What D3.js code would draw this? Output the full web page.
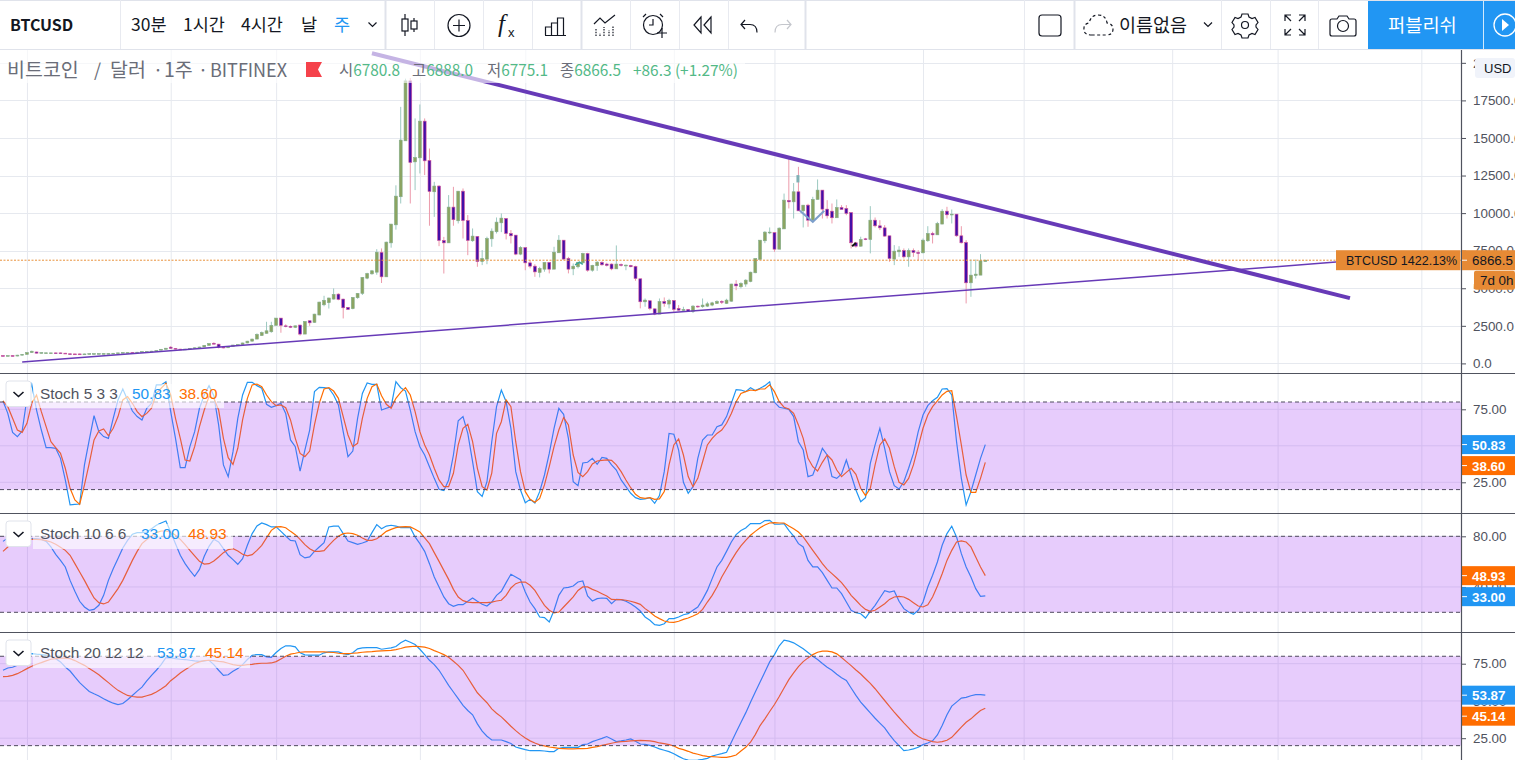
<!DOCTYPE html>
<html>
<head>
<meta charset="utf-8">
<script src="https://cdn.jsdelivr.net/npm/d3@7"></script>
<style>
  html, body { margin: 0; padding: 0; background: #fff; overflow: hidden; }
  svg { display: block; font-family: "Liberation Sans", "Noto Sans CJK KR", sans-serif; }
  .axis path.domain { display: none; }
  .axis line { stroke: #50535e; }
  .axis text { fill: #50535e; font-size: 13.4px; }
  .kr { font-family: "Noto Sans CJK KR", sans-serif; }
</style>
</head>
<body>
<div id="plot"></div>
<script>
// weekly candles
const opens = [
  520,500,520,490,550,600,720,760,680,680,
  680,700,700,680,640,630,630,610,630,630,
  640,640,640,650,675,700,700,725,715,760,
  760,785,820,880,940,1080,1000,950,910,950,
  1000,1040,1090,1200,1340,1280,1080,1040,1130,1190,
  1250,1360,1480,1620,1850,2000,2105,2530,3015,2500,
  2470,2400,2550,1950,2840,2730,3220,3900,4040,4280,
  4610,4280,3730,3640,4370,4660,5670,5960,6070,7380,
  5760,8020,9220,11090,14810,18800,13410,13680,16120,13500,
  11420,11800,8180,8020,10400,9490,11460,9510,8160,8450,
  6780,6940,8290,8760,9355,9644,8645,8535,7270,7710,
  6690,6470,6050,6270,6720,6270,7360,8200,6980,6290,
  6430,6690,7310,6200,6500,6720,6610,6610,6290,6580,
  6500,6520,6450,5630,4100,4170,3630,3280,4120,3950,
  4190,3660,3520,3590,3460,3810,3770,3810,3880,3990,
  4120,3990,4140,5280,5100,5280,5450,6030,6920,8160,
  8690,8700,7600,8950,10840,10750,11420,10150,10530,9530,
  10910,11530,10265,10130,9690,10375,10310,10040,8025,7800,
  8290,8246,9530,9155,9020,8490,6940,7425,7515,7090,
  7515,7380,7360,8160,8645,8555,9270,10130,9890,9930,
  8490,8047,5363,5850,5873,6780.8
];
const closes = [
  500,520,490,550,600,720,810,680,720,705,
  700,680,680,650,610,600,605,630,650,650,
  655,655,660,675,700,725,725,695,745,790,
  790,815,860,940,1010,1000,950,910,950,1000,
  1040,1090,1200,1320,1280,1070,1040,1130,1220,1250,
  1360,1480,1620,1930,2050,2170,2530,3015,2530,2450,
  2400,2500,1950,2795,2700,3280,4080,4200,4350,4590,
  4260,3700,3590,4390,4660,5720,5980,6160,7400,5760,
  8070,9270,11130,14860,18800,13370,13700,16120,13480,11440,
  11800,8180,8020,10400,9560,11460,9510,8180,8470,6780,
  6980,8310,8800,9400,9666,8645,8490,7270,7710,6690,
  6470,6090,6320,6720,6270,7400,8200,6940,6270,6470,
  6720,7310,6200,6520,6740,6560,6520,6290,6610,6520,
  6540,6430,5650,4100,4210,3660,3280,4120,3990,4190,
  3590,3540,3590,3460,3810,3770,3880,3965,4030,4120,
  4080,4210,5280,5160,5320,5540,6070,6980,8200,8735,
  8735,7600,9000,10864,10750,11420,10150,10530,9530,10910,
  11530,10265,9820,9690,10375,10240,9980,8025,7800,8246,
  8246,9530,9155,9020,8470,6980,7470,7540,7090,7515,
  7380,7315,8200,8645,8555,9310,10130,9890,9930,8490,
  8025,5363,5873,5940,6825,6866.5
];
const highs = [
  540,540,540,570,620,740,850,780,740,725,
  720,720,720,700,660,650,650,650,670,670,
  675,675,680,695,720,745,745,745,765,810,
  810,835,880,960,1030,1150,1020,970,970,1020,
  1060,1110,1220,1350,1400,1300,1100,1150,1240,1270,
  1380,1500,1640,2000,2120,2770,2770,3015,3015,2600,
  2520,2520,2580,2800,2840,3300,4100,4500,4380,4990,
  4660,4300,3750,4400,4680,5750,6030,6220,7600,7650,
  8100,9280,11850,17070,18950,18990,16300,17230,16300,14300,
  12080,11860,8420,11200,11750,11460,11640,9870,8980,8450,
  7540,8430,8980,9710,9976,9644,8870,8535,7800,7710,
  6870,6600,6430,6720,6720,7760,8535,8200,7090,6650,
  6760,7360,7360,6560,6800,6800,6700,6650,7850,6650,
  6580,6560,6500,5630,4320,4170,3660,4320,4390,4300,
  4190,3880,3770,3600,3880,3850,4320,4100,4100,4200,
  4200,4300,5300,5540,5400,5600,6100,6980,8200,8800,
  9045,8735,9050,11300,13750,12000,13080,10530,10620,11085,
  12240,11530,10860,10640,10910,10530,10530,10040,8090,8430,
  8350,10465,9710,9530,9200,8490,7870,7800,7650,7650,
  7650,7540,8310,9130,8760,9420,10265,10420,10240,9930,
  9130,8200,6916,6916,7270,6888.0
];
const lows = [
  480,480,470,470,530,580,700,660,660,660,
  660,660,660,630,590,580,585,590,610,610,
  620,620,620,630,655,680,680,675,695,740,
  740,765,800,860,920,980,930,890,890,930,
  980,1020,1070,1180,1260,1000,1000,1020,1110,1170,
  1230,1340,1460,1600,1830,1980,2040,2530,2040,2400,
  2350,2350,1850,1950,2500,2700,3200,3800,3650,4250,
  4200,2990,3550,3600,4300,4550,5600,5900,5900,5350,
  5760,7700,8900,10640,14810,10640,11530,12640,12530,9160,
  9750,7800,5980,8020,9160,9310,8310,7200,8090,6430,
  6540,6600,7760,8645,8735,8246,7980,7200,7200,6200,
  6320,5760,5720,6100,5990,6270,7360,6900,5990,5870,
  6320,6690,6100,6100,6160,6500,6450,6200,6290,6450,
  6200,6400,5500,3660,3770,3540,3210,3280,3770,3660,
  3430,3500,3430,3430,3350,3700,3700,3750,3800,3950,
  3950,3950,4100,4870,4990,5100,5400,6000,6900,8000,
  8600,7420,7600,8950,10310,9640,10150,9045,9090,9420,
  10910,9640,9640,9310,9690,10240,9860,7650,7700,7760,
  8200,7320,9045,8870,8430,6760,6540,7090,6980,6430,
  7090,6870,7315,8090,7980,8555,9270,9640,9310,8430,
  7980,3990,4430,5650,5873,6775.1
];

// Stoch 5 3 3
const stoch5K = [
  80.7,72.2,59.2,56.3,60.1,82.5,92.1,74.5,60.8,48.7,
  48.7,48.3,41.4,26.6,9.5,9.9,10.1,36.9,54,70.6,
  59.7,56.3,55.1,68.8,81.4,88.9,81.4,73.8,70,67.7,
  75.7,79.1,91.7,91.7,93.9,73.4,55.1,35,35,49.4,
  59.7,75.7,84.8,91.2,84.3,64.3,36.9,28.9,46,68.8,
  84.8,93.5,93.5,91.2,89.4,78.4,76.4,77.5,79.1,72.2,
  54,49.4,32.7,47.1,60.8,87.1,90,89.8,89.4,84.8,
  78,59.7,42.6,46.4,68.8,85.9,93,92.1,92.1,74.5,
  75.7,76.8,93.9,89.8,87.5,74.5,59.7,49.4,43.7,35.7,
  27.7,20.2,19.3,26.6,43.7,67.2,70,58.5,39.1,18.6,
  15.4,25.4,52.8,76.8,88.2,80.2,62,32.3,19.7,11,
  13.3,10.8,18.6,30,44.8,62,75.7,71.6,55.1,25.4,
  22.7,38.2,38.7,41.4,37.3,42.1,41.4,36.9,33.4,26.6,
  22,17.5,14.5,13.3,13.6,14.5,10.6,15.9,32.3,58.5,
  57.9,47.1,25,17.5,22,41.4,54,57.4,57.4,63.1,
  64.3,70,79.1,88.5,88.2,87.1,89.8,87.8,89.4,91.2,
  93.9,79.8,76.4,75.7,75,70,52.8,47.1,28.9,30,
  38.7,48.3,43.7,28.9,27.7,30.7,40.3,30,19.7,11.7,
  14.5,38,50.6,62,48.3,32.3,22.7,20.4,25.4,34.6,
  44.8,59.7,71.1,77.5,80.9,83.2,88.9,89.1,84.8,52.8,
  27.7,9.5,18.6,30,41.4,50.83
];
const stoch5D = [
  80.7,76.8,68.8,60.8,59.2,65.4,79.1,84.8,73.4,63.1,
  52.8,48.7,44.8,34.6,20.9,12.9,9.9,23.2,38,54,
  60.1,61.5,56.9,62,70,81.4,83.7,79.1,73.4,70,
  72.2,75.7,85.9,89.4,92.8,84.8,68.8,55.1,40.3,39.6,
  49.4,63.1,74.5,83.7,82.5,74.5,55.1,41.9,37.3,48.3,
  67.7,82.5,91.7,92.3,90.5,84.8,80.2,77.5,78,76.1,
  67.7,55.1,44.8,42.6,46.4,64.3,79.1,88.9,89.8,87.5,
  82.5,70,57.4,49.4,51.7,68.8,82.5,90.5,92.3,84.3,
  78.4,75.7,82.5,86.6,89.8,84.8,73.4,59.7,50.6,43.7,
  34.6,26.6,22,22,31.2,50.6,62,64.7,52.8,34.6,
  22,19.7,31.2,58.5,66.5,81.4,76.8,52.8,32.3,18.6,
  13.3,11.3,14,23.2,35.7,49.4,60.8,69.3,64.3,43.7,
  31.8,28.9,32.3,37.5,39.6,40,40.3,40,36.9,32.3,
  26.6,21.3,16.8,14.5,14,14.5,13.3,13.6,18.6,36.9,
  50.6,54.7,43.7,28.9,22,27.7,39.1,50.6,55.1,58.5,
  60.8,65.4,72.2,80.2,85.9,87.1,88.2,87.8,88.9,88.9,
  91.7,87.1,80.2,76.4,75.2,72.2,64.3,55.1,41.4,35.7,
  32.7,38.7,43.7,40.3,33.4,28.9,31.8,34.6,30.5,20.9,
  15.9,20.9,36.9,50.6,54.7,48.3,35.7,25,23.2,27.7,
  36.9,49.4,62,71.1,76.8,80.7,84.8,87.3,87.8,70,
  50.6,30,18.1,18.1,27.7,38.6
];

// Stoch 10 6 6
const stoch10K = [
  76,78.7,80.2,80.2,79.5,78.7,78.1,78.1,77.6,76,
  71.6,65.8,61,55.8,45.2,36.6,28.7,24.2,21.6,22.3,
  25.5,33.4,45.2,54.4,62.4,70.8,76.8,81.6,82.9,82.9,
  83.4,86,88.7,90.5,92.1,83.4,74.2,65,58.4,53.1,
  48.4,53.9,64.2,72.1,77.6,75.5,70.2,65,61.6,57.9,
  62.4,72.9,82.1,88.1,90.5,89.2,87.4,87.4,83.9,80.2,
  76.8,76.3,65.5,62.9,63.7,68.1,71.6,75,87.4,88.1,
  88.1,82.1,76.3,75,73.7,74.7,76,82.9,89.2,86,
  88.1,88.7,88.1,86.8,86.8,86.8,79.5,74.2,68.1,58.4,
  47.9,40,32.1,26.8,24.7,26,26,28.7,31.3,28.7,
  26.3,25,28.1,33.4,36.6,43.4,50,47.9,45.8,36,
  28.1,22.9,16.3,15.8,12.3,21.6,33.4,39.2,39.7,40.8,
  43.9,44.7,32.9,28.9,30.8,31.3,31,26.8,30.2,30,
  28.7,26.8,24.2,21,16.3,13.7,10.2,9.7,11,15,
  15,16.3,18.1,18.9,21.6,24.2,30.2,37.3,46.6,55.8,
  61,68.1,75.5,81.3,84.5,86.6,90,90,90,92.4,
  92.6,89.5,89.5,90,84.7,80.2,74.2,71.6,61,55.8,
  55.8,51.3,45.2,39.2,39.2,34.7,28.1,21.6,19.7,18.9,
  15.5,20.8,25.5,31.3,37.1,36,36.8,28.7,22.9,20.2,
  18.4,21.6,28.1,40,49.2,59.7,72.9,82.1,87.9,79.5,
  66.3,55.8,47.9,38.7,32.6,33
];
const stoch10D = [
  68.1,71.6,74.2,76,76.8,77.4,77.6,77.6,77.4,76.6,
  75.5,73.7,71.3,68.9,65,58.4,51.8,45.2,38.1,31.3,
  27.6,26.6,28.1,33.4,38.7,45.2,53.1,61,68.1,74.2,
  77.4,80.2,82.9,84.2,84.2,83.4,80.8,77.6,73.4,68.9,
  64.5,60.2,58.1,58.4,60.5,63.7,67.1,69.5,70.2,68.4,
  65.8,64.5,65.5,68.9,72.9,78.7,84.7,87.4,87.6,86.8,
  83.9,81.3,77.6,73.4,70.2,68.1,68.1,68.7,72.9,76.8,
  80,82.1,82.6,82.1,80.8,78.7,76.8,76.8,78.1,80.8,
  83.9,85.5,86.8,87.4,87.6,87.4,85.5,83.4,78.7,74.2,
  67.1,60.2,53.1,46,38.1,32.1,29.2,28.1,27.6,27.6,
  27.6,27.6,28.1,28.9,29.5,33.4,39.2,42.6,43.9,43.9,
  41.3,37.3,31.3,25.5,21.6,19.5,20.2,24.2,28.1,32.1,
  37.3,40,40,38.1,36.6,34.7,32.9,30.2,30,30,
  29.5,28.7,27.6,26.3,22.9,20.2,17.1,15,13.1,12.3,
  12.1,12.9,14.4,15.5,17.1,18.9,22.3,28.1,33.4,40,
  47.9,54.4,61,67.1,72.4,76.8,80.8,83.9,86.8,88.9,
  90.5,90.8,90.5,90.5,88.1,86,83.4,79.5,74.2,68.9,
  63.7,58.4,53.9,50.5,47.1,43.4,38.7,33.4,29.5,25.5,
  22.3,20.8,21.6,24.2,26.8,30.2,32.1,32.6,32.1,30.2,
  27.6,25,24.2,26,32.1,40.8,50.5,61,68.9,75.5,
  76.3,75.5,71.6,63.7,55.8,48.93
];

// Stoch 20 12 12
const stoch20K = [
  70.6,72.1,72.6,73.9,77.3,80.7,81.8,81.4,81.1,80.7,
  80,78.4,76.2,72.8,70.1,66.1,62.3,59.3,56.4,54.8,
  53.3,51.5,49.9,48.5,47.6,48.3,50.8,53.7,56.6,59.3,
  63.4,67.2,70.6,74.4,79.1,78.9,78.4,78,77.8,77.3,
  76.9,76.6,76.9,77.3,74.4,70.6,67.2,67.6,69.9,71.7,
  74.4,77.8,80.7,81.1,81.1,79.6,79.3,82.5,85.2,87,
  87,86.3,82.3,80.9,80.7,80.7,80.7,82.3,82.9,82.9,
  82.9,81.8,81.1,82.3,85,85.6,85.8,85.8,85.8,84.7,
  85.2,85.6,86.5,89,90.8,89.4,87.9,84.7,81.1,77.3,
  74.4,70.6,65.6,60.5,56,51.5,47,43.6,40.7,34.6,
  29.7,26.3,23.8,23.8,23.8,22.7,21.4,19.1,18.2,17.3,
  16.6,16.6,16.6,16.4,16,16,18.2,18.9,18.9,18.9,
  18.9,20.7,21.1,22.7,23.8,24.9,26.1,24.5,22.7,23.2,
  23.8,24.5,22.9,21.1,20.9,20.2,19.1,17.8,16.9,16,
  14.6,12.8,11.2,10.3,10.1,10.3,10.8,11.5,13,13.9,
  14.6,15.5,22.3,29,35.5,42,49.2,56,62.7,69.4,
  76.2,81.1,87,90.8,90.1,89,87,85,82.5,80,
  77.8,75.1,72.6,70.6,67.9,65.6,63.8,58.7,53.7,49.2,
  45.6,42,38.4,35.1,31.9,27.4,23.4,20,16.6,17.1,
  17.8,18.9,20.7,21.8,23.2,27.2,33.5,40.7,46.5,49.2,
  51.9,52.4,53.5,54.2,54.2,53.87
];
const stoch20D = [
  66.3,66.5,67.2,68.3,69.9,71.7,73.3,74.6,75.7,76.9,
  78,78.4,78.7,78.7,78.4,77.1,75.5,73.9,71.7,69.7,
  67.6,64.9,62.3,59.6,57.1,55.3,53.7,53,52.6,52.6,
  53.5,54.4,56,58,60.2,63.6,66.1,68.8,71,73,
  75.1,76.2,77.1,77.3,77.1,76.6,76.2,75.3,74.4,73.9,
  73.9,74.4,74.6,75.1,75.3,75.3,75.5,76.4,78.2,80,
  81.4,82,82.7,82.9,82.9,82.9,82.9,82.9,82.7,82.5,
  82,81.8,81.8,82,82.3,82.7,82.9,83.1,83.4,83.6,
  83.8,84,84.5,85.2,86.1,86.5,86.7,86.5,86.1,85.2,
  83.8,82.5,81.1,79.3,76.6,73.9,70.6,65.6,60.5,55.5,
  52.1,48.8,44.7,41.8,39.3,36.2,33,30.1,27.4,25.2,
  23.2,21.8,20.5,19.8,19.1,18.7,18.2,18,17.8,17.8,
  18,18,18.2,18.9,19.3,20.2,20.9,21.6,22.3,22.7,
  22.9,23.2,23.4,23.6,23.4,23.2,22.7,21.8,21.4,20.7,
  19.8,18.2,17.3,16.2,15,14.2,13.3,12.8,12.6,12.4,
  12.1,12.1,12.8,13.7,16.4,18.9,22.3,27.4,33.5,38,
  42.9,47.6,53,58.7,64.3,68.8,73,76.4,78.9,81.1,
  82.7,83.4,83.4,82.9,81.6,79.1,76.4,73.7,70.8,68.1,
  64.9,61.8,58.2,54.2,50.3,46.3,42.5,38.9,35.3,31.9,
  28.5,26.1,24.5,23.6,22.7,22.3,22.7,23.6,25.6,29,
  32.4,35.7,38,40.9,43.6,45.14
];

// bars that carry a vertical grid line
const timeGridBars = [5, 35, 57, 87, 109, 140, 161, 192, 213, 244, 266, 296];

// axis tick values
const priceTicks = [0, 2500, 5000, 7500, 10000, 12500, 15000, 17500, 20000];
const stoch5Ticks = [25, 50, 75];
const stoch10Ticks = [40, 80];
const stoch20Ticks = [25, 50, 75];

// hand drawn lines, as [bar, price]
const fallingTrend = [[77, 20640], [281.1, 4340]];
const risingTrend = [[4, 90], [278.2, 6740]];
const zigzagMark = [[166.3, 10154], [169, 9420], [171.4, 10154]];
const wickMark = [[165.9, 12530], [165.9, 12040]];
const darkMark = [[177.2, 7790], [178, 8010]];
const tealMark = [[119.4, 6560], [120.3, 6740], [121, 6590]];

const lastPrice = 6866.5;

const width = 1515, height = 760, plotRight = 1461;
const purple = "#673ab7", blue = "#2196f3", orange = "#ff6d00", gridCol = "#e6e9ef", inkCol = "#50535e";

const svg = d3.select("#plot").append("svg").attr("width", width).attr("height", height);

// bar index -> pixel, shared by all panes
const x = d3.scaleLinear().domain([0, 205]).range([3, 985.3]);

// price pane scale
const y = d3.scaleLinear().domain([0, 17500]).range([363.4, 100.4]);

// clip regions for the panes
const defs = svg.append("defs");
function addClip(id, top, bottom) {
    defs.append("clipPath").attr("id", id).append("rect")
        .attr("x", 0).attr("y", top).attr("width", plotRight).attr("height", bottom - top);
}
addClip("clipMain", 50, 373);

// vertical grid runs through every pane
svg.append("g").selectAll("line").data(timeGridBars).join("line")
    .attr("x1", d => x(d) + 0.5).attr("x2", d => x(d) + 0.5)
    .attr("y1", 50).attr("y2", height)
    .attr("stroke", gridCol);

// ---- price pane ----
svg.append("g").selectAll("line").data(priceTicks).join("line")
    .attr("x1", 0).attr("x2", plotRight)
    .attr("y1", d => Math.round(y(d)) + 0.5).attr("y2", d => Math.round(y(d)) + 0.5)
    .attr("stroke", gridCol);

const candleData = d3.range(opens.length).map(i => ({i, o: opens[i], c: closes[i], h: highs[i], l: lows[i]}));
const candles = svg.append("g").attr("clip-path", "url(#clipMain)");

candles.selectAll("line").data(candleData).join("line")
    .attr("x1", d => x(d.i)).attr("x2", d => x(d.i))
    .attr("y1", d => y(d.h)).attr("y2", d => y(d.l))
    .attr("stroke", d => d.c >= d.o ? "#9cc9c0" : "#ec9aab")
    .attr("stroke-width", 1);

candles.selectAll("rect").data(candleData).join("rect")
    .attr("x", d => x(d.i) - 1.45)
    .attr("width", 2.9)
    .attr("y", d => y(Math.max(d.o, d.c)))
    .attr("height", d => Math.max(0.8, Math.abs(y(d.o) - y(d.c))))
    .attr("fill", d => d.c >= d.o ? "#8ca461" : "#440fa8")
    .attr("stroke", d => d.c >= d.o ? "#84ad8c" : "#d4559a")
    .attr("stroke-width", 0.6);

const drawn = d3.line().x(d => x(d[0])).y(d => y(d[1]));

// price line
svg.append("line")
    .attr("x1", 0).attr("x2", plotRight)
    .attr("y1", y(lastPrice)).attr("y2", y(lastPrice))
    .attr("stroke", "#e8913a").attr("stroke-dasharray", "2,1.5");

const marks = svg.append("g").attr("fill", "none").attr("clip-path", "url(#clipMain)");
marks.append("path").attr("d", drawn(zigzagMark)).attr("stroke", "#7d9fcb").attr("stroke-width", 2);
marks.append("path").attr("d", drawn(wickMark)).attr("stroke", "#7fb0b4").attr("stroke-width", 3);
marks.append("path").attr("d", drawn(darkMark)).attr("stroke", "#111").attr("stroke-width", 2);
marks.append("path").attr("d", drawn(tealMark)).attr("stroke", "#3aa597").attr("stroke-width", 1.6);
marks.append("path").attr("d", drawn(risingTrend)).attr("stroke", purple).attr("stroke-width", 1.5);
marks.append("path").attr("d", drawn(fallingTrend)).attr("stroke", purple).attr("stroke-width", 4);

// main legend sits on a translucent strip
svg.append("rect").attr("x", 0).attr("y", 50).attr("width", 745).attr("height", 33)
    .attr("fill", "#fff").attr("opacity", 0.62);

const mainLegend = svg.append("g").attr("class", "kr").attr("fill", "#6a6d78");
[["비트코인", 7, 19.5], ["/", 94, 18], ["달러", 110, 19.5], ["·", 153, 18], ["1주", 164, 19.5], ["·", 198, 18], ["BITFINEX", 210, 18]].forEach(d => {
    mainLegend.append("text").attr("x", d[1]).attr("y", 77).attr("font-size", d[2]).text(d[0]);
});
mainLegend.append("path").attr("d", "M306,62H322L318,69.5L322,77H306Z").attr("fill", "#f5424b");

const ohlc = [["시", "6780.8", 339], ["고", "6888.0", 412], ["저", "6775.1", 487], ["종", "6866.5", 560]];
ohlc.forEach(d => {
    const t = mainLegend.append("text").attr("x", d[2]).attr("y", 76).attr("font-size", 15.4);
    t.append("tspan").attr("fill", "#6a6d78").text(d[0]);
    t.append("tspan").attr("fill", "#53b987").text(d[1]);
});
mainLegend.append("text").attr("x", 633).attr("y", 76).attr("font-size", 15.4).attr("fill", "#53b987")
    .text("+86.3 (+1.27%)");

// ---- stochastic panes ----
const panes = [
    {id: "p5", top: 374, bottom: 513, k: stoch5K, d: stoch5D, ticks: stoch5Ticks, y25: 25, y75: 75, py25: 482.3, py75: 409.3,
     name: "Stoch 5 3 3", kText: "50.83", dText: "38.60", kX: 132, dX: 179, base: 399,
     legendRight: 224, legendTop: 384, legendBottom: 408, btnTop: 381},
    {id: "p10", top: 514, bottom: 632, k: stoch10K, d: stoch10D, ticks: stoch10Ticks, y25: 20, y75: 80, py25: 612.3, py75: 536.3,
     name: "Stoch 10 6 6", kText: "33.00", dText: "48.93", kX: 141, dX: 188, base: 539,
     legendRight: 233, legendTop: 524, legendBottom: 549, btnTop: 521},
    {id: "p20", top: 633, bottom: 760, k: stoch20K, d: stoch20D, ticks: stoch20Ticks, y25: 25, y75: 75, py25: 738.2, py75: 663.7,
     name: "Stoch 20 12 12", kText: "53.87", dText: "45.14", kX: 157, dX: 205, base: 658,
     legendRight: 250, legendTop: 644, legendBottom: 668, btnTop: 640}
];

panes.forEach(p => {
    const py = d3.scaleLinear().domain([p.y25, p.y75]).range([p.py25, p.py75]);
    addClip("clip" + p.id, p.top, p.bottom);
    const g = svg.append("g");

    g.selectAll("line.h").data(p.ticks).join("line").attr("class", "h")
        .attr("x1", 0).attr("x2", plotRight)
        .attr("y1", d => py(d)).attr("y2", d => py(d))
        .attr("stroke", gridCol);

    const lines = g.append("g").attr("clip-path", `url(#clip${p.id})`).attr("fill", "none").attr("stroke-width", 1.2);
    const ln = d3.line().x((d, i) => x(i)).y(d => py(d));
    lines.append("path").attr("d", ln(p.k)).attr("stroke", blue);
    lines.append("path").attr("d", ln(p.d)).attr("stroke", orange);

    // band is laid over the lines, which is what tints them
    g.append("rect").attr("x", 0).attr("width", plotRight)
        .attr("y", py(80)).attr("height", py(20) - py(80))
        .attr("fill", "rgb(160,50,245)").attr("opacity", 0.25);
    [80, 20].forEach(v => {
        g.append("line").attr("x1", 0).attr("x2", plotRight)
            .attr("y1", py(v)).attr("y2", py(v))
            .attr("stroke", "#4f4a5e").attr("stroke-dasharray", "4,3");
    });

    // legend strip, button and texts
    g.append("rect").attr("x", 33).attr("width", p.legendRight - 33)
        .attr("y", p.legendTop).attr("height", p.legendBottom - p.legendTop)
        .attr("fill", "#fff").attr("opacity", 0.62);
    g.append("rect").attr("x", 6).attr("y", p.btnTop).attr("width", 25).attr("height", 25.5).attr("rx", 3)
        .attr("fill", "#fff").attr("stroke", "#e0e3eb");
    g.append("path").attr("d", `M13.5,${p.btnTop + 11}l5,4.5l5,-4.5`)
        .attr("fill", "none").attr("stroke", "#131722").attr("stroke-width", 1.6);
    g.append("text").attr("x", 40).attr("y", p.base).attr("font-size", 15.4).attr("fill", inkCol).text(p.name);
    g.append("text").attr("x", p.kX).attr("y", p.base).attr("font-size", 15.4).attr("fill", blue).text(p.kText);
    g.append("text").attr("x", p.dX).attr("y", p.base).attr("font-size", 15.4).attr("fill", orange).text(p.dText);

    // axis
    svg.append("g").attr("class", "axis").attr("transform", `translate(${plotRight},0)`)
        .call(d3.axisRight(py).tickValues(p.ticks).tickSize(5).tickPadding(7).tickFormat(d3.format(".2f")));

    // last value tags, pushed apart when they would touch
    const tags = [{v: +p.kText, col: blue, t: p.kText}, {v: +p.dText, col: orange, t: p.dText}]
        .map(d => ({...d, cy: py(d.v)})).sort((a, b) => a.cy - b.cy);
    if (tags[1].cy - tags[0].cy < 21) tags[1].cy = tags[0].cy + 21;
    tags.forEach(d => {
        svg.append("rect").attr("x", plotRight + 1).attr("y", d.cy - 9.5).attr("width", width - plotRight - 1).attr("height", 19)
            .attr("fill", d.col);
        svg.append("line").attr("x1", plotRight + 1).attr("x2", plotRight + 6).attr("y1", d.cy).attr("y2", d.cy).attr("stroke", "#fff");
        svg.append("text").attr("x", 1472).attr("y", d.cy + 5).attr("font-size", 13.4).attr("font-weight", "bold")
            .attr("fill", "#fff").text(d.t);
    });
});

// pane separators
[373.5, 513.5, 632.5].forEach(v => {
    svg.append("line").attr("x1", 0).attr("x2", width).attr("y1", v).attr("y2", v).attr("stroke", inkCol).attr("stroke-width", 1.2);
});

// ---- price axis ----
svg.append("g").attr("class", "axis").attr("transform", `translate(${plotRight},0)`)
    .call(d3.axisRight(y).tickValues(priceTicks).tickSize(5).tickPadding(7).tickFormat(d3.format(".1f")));
svg.append("line").attr("x1", plotRight + 0.5).attr("x2", plotRight + 0.5).attr("y1", 50).attr("y2", height)
    .attr("stroke", inkCol).attr("stroke-width", 1.2);

svg.append("rect").attr("x", 1475).attr("y", 58).attr("width", 40).attr("height", 20).attr("rx", 3).attr("fill", "#f0f3fa");
svg.append("text").attr("x", 1484).attr("y", 73).attr("font-size", 13).attr("fill", "#131722").text("USD");

// orange tags on the last price
const tagY = y(lastPrice);
svg.append("rect").attr("x", 1336).attr("y", tagY - 10).attr("width", 124.5).attr("height", 20).attr("fill", "#e68a35");
svg.append("text").attr("x", 1346).attr("y", tagY + 4.5).attr("font-size", 12.5).attr("fill", "#131722").text("BTCUSD 1422.13%");
svg.append("rect").attr("x", 1462).attr("y", tagY - 10).attr("width", 53).attr("height", 20).attr("fill", "#e68a35");
svg.append("line").attr("x1", 1462).attr("x2", 1467).attr("y1", tagY).attr("y2", tagY).attr("stroke", "#fff");
svg.append("text").attr("x", 1472).attr("y", tagY + 4.5).attr("font-size", 13.4).attr("fill", "#131722").text("6866.5");
svg.append("rect").attr("x", 1474).attr("y", tagY + 10.5).attr("width", 41).attr("height", 19).attr("rx", 2).attr("fill", "#e68a35");
svg.append("text").attr("x", 1480).attr("y", tagY + 24.5).attr("font-size", 13.4).attr("fill", "#131722").text("7d 0h");

// ---- toolbar ----
const bar = svg.append("g");
bar.append("rect").attr("width", width).attr("height", 49).attr("fill", "#fff");
bar.append("line").attr("x1", 0).attr("x2", width).attr("y1", 0.5).attr("y2", 0.5).attr("stroke", "#e0e3eb");
bar.append("line").attr("x1", 0).attr("x2", width).attr("y1", 49.5).attr("y2", 49.5).attr("stroke", "#e0e3eb");

const thinSeps = [120.5, 434.5, 483.5, 532.5, 630.5, 679.5, 728.5, 1024.5, 1221.5, 1270.5, 1318.5];
const thickSeps = [385.5, 581.5, 805.5, 1074.5];
bar.selectAll("line.s").data(thinSeps).join("line").attr("class", "s")
    .attr("x1", d => d).attr("x2", d => d).attr("y1", 0).attr("y2", 49).attr("stroke", "#e8eaf0");
bar.selectAll("line.t").data(thickSeps).join("line").attr("class", "t")
    .attr("x1", d => d).attr("x2", d => d).attr("y1", 0).attr("y2", 49).attr("stroke", "#e0e3eb").attr("stroke-width", 2);

const barText = bar.append("g").attr("class", "kr").attr("fill", "#131722");
barText.append("text").attr("x", 10).attr("y", 31).attr("font-size", 16).attr("font-weight", "bold").text("BTCUSD");
[["30분", 131], ["1시간", 183], ["4시간", 241], ["날", 301]].forEach(d => {
    barText.append("text").attr("x", d[1]).attr("y", 31).attr("font-size", 17.5).text(d[0]);
});
barText.append("text").attr("x", 334).attr("y", 31).attr("font-size", 17.5).attr("fill", blue).text("주");
barText.append("text").attr("x", 1119).attr("y", 32).attr("font-size", 18.5).text("이름없음");

const icons = bar.append("g").attr("fill", "none").attr("stroke", "#131722").attr("stroke-width", 1.2);
const chevron = cx => icons.append("path").attr("d", `M${cx - 4},22.5l4,4l4,-4`);
chevron(372.5);
chevron(1208);
// candles
icons.append("path").attr("d", "M405,14v22M414,18v14");
icons.append("rect").attr("x", 402).attr("y", 19).attr("width", 6).attr("height", 12).attr("fill", "#fff");
icons.append("rect").attr("x", 411).attr("y", 21).attr("width", 6).attr("height", 8).attr("fill", "#fff");
// add indicator
icons.append("circle").attr("cx", 459).attr("cy", 25.5).attr("r", 11);
icons.append("path").attr("d", "M453,25.5h12M459,19.5v12");
// fx
bar.append("text").attr("x", 498).attr("y", 32).attr("font-family", "Liberation Serif").attr("font-style", "italic")
    .attr("font-size", 25).attr("fill", "#131722").text("f");
bar.append("text").attr("x", 508).attr("y", 37).attr("font-size", 13).attr("fill", "#131722").text("x");
// templates
icons.append("path").attr("d", "M545.5,35v-8h6v8M551.5,35v-12h6v12M557.5,35v-17h6v17M545,35.5h21");
// line with bars
icons.append("path").attr("d", "M594,24l6,-6l5,5l10,-8");
icons.append("path").attr("stroke-dasharray", "1.5,1.2").attr("d", "M596,36v-8M600,36v-3M604,36v-9M609,36v-6M613,36v-10");
// alarm
icons.append("circle").attr("cx", 653).attr("cy", 25).attr("r", 9.5);
icons.append("path").attr("d", "M646,14l-3,3M660,14l3,3M653,19v6h-4M657,33h10M662,28v10");
// rewind
icons.append("path").attr("d", "M701,17l-7,8l7,8zM711,17l-7,8l7,8z");
// undo and redo
icons.append("path").attr("d", "M745,20l-4,4.5l4,4.5M741,24.5h9q7,0 7,8");
icons.append("path").attr("stroke", "#c4c6cc").attr("d", "M787,20l4,4.5l-4,4.5M791,24.5h-9q-7,0 -7,8");
// layout square
icons.append("rect").attr("x", 1039).attr("y", 15).attr("width", 22).attr("height", 21).attr("rx", 3);
// cloud
icons.append("path").attr("stroke-dasharray", "3,2.5")
    .attr("d", "M1092,35q-9,0 -8,-7q0,-4 5,-5q2,-8 9,-8q8,0 9,8q6,1 6,6q0,6 -7,6z");
// settings
icons.append("circle").attr("cx", 1245).attr("cy", 25).attr("r", 3.5);
icons.append("path").attr("d", "M1242,14h6l1,3l3,1.5l3,-1l3,5l-2,2.5v2l2,2.5l-3,5l-3,-1l-3,1.5l-1,3h-6l-1,-3l-3,-1.5l-3,1l-3,-5l2,-2.5v-2l-2,-2.5l3,-5l3,1l3,-1.5z");
// fullscreen
icons.append("path").attr("d", "M1285,21v-6h6M1285,15l6,6M1305,21v-6h-6M1305,15l-6,6M1285,29v6h6M1285,35l6,-6M1305,29v6h-6M1305,35l-6,-6");
// camera
icons.append("path").attr("d", "M1332,19h5l2,-3h8l2,3h5q2,0 2,2v13q0,2 -2,2h-22q-2,0 -2,-2v-13q0,-2 2,-2z");
icons.append("circle").attr("cx", 1343).attr("cy", 26).attr("r", 5.5);

// publish button
bar.append("rect").attr("x", 1368).attr("y", 1).attr("width", 147).attr("height", 48).attr("fill", blue);
bar.append("line").attr("x1", 1483.5).attr("x2", 1483.5).attr("y1", 1).attr("y2", 49).attr("stroke", "#fff").attr("stroke-width", 0.8);
bar.append("text").attr("class", "kr").attr("x", 1388).attr("y", 32).attr("font-size", 18.7).attr("fill", "#fff").text("퍼블리쉬");
bar.append("circle").attr("cx", 1505).attr("cy", 25).attr("r", 11).attr("fill", "none").attr("stroke", "#fff").attr("stroke-width", 1.3);
bar.append("path").attr("d", "M1502,19l7,6l-7,6z").attr("fill", "#fff");
</script>
</body>
</html>
